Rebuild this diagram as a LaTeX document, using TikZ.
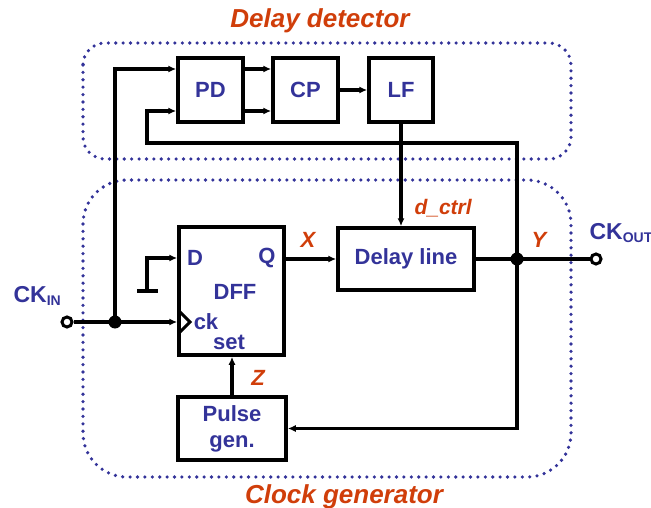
\documentclass[tikz,border=0pt]{standalone}
\usepackage{fontspec}
\setmainfont{Liberation Sans}
\usepackage{tikz}
\usetikzlibrary{arrows.meta,positioning,calc}
\definecolor{txtblue}{RGB}{51,51,153}
\definecolor{lblred}{RGB}{208,62,10}

\begin{document}
\begin{tikzpicture}[x=1pt,y=-1pt,
    font=\fontsize{22}{24}\selectfont\bfseries,
    wire/.style={line width=3.5pt},
    arr/.style={wire,-{Latex[length=8pt,width=7pt]}},
    blk/.style={draw,line width=3.5pt,text=txtblue,align=center,inner sep=0pt},
    dotbox/.style={draw=txtblue,line width=3.6pt,line cap=round,dash pattern=on 0pt off 7.4pt},
    sig/.style={text=lblred,font=\fontsize{22}{24}\selectfont\bfseries\itshape},
    pin/.style={text=txtblue},
    dot/.style={circle,fill=black,inner sep=0pt,minimum size=13pt},
    port/.style={circle,draw,fill=white,line width=3pt,inner sep=0pt,minimum size=10pt}]
    \useasboundingbox (0,0) rectangle (651,508);
    % dotted groups
    \draw[dotbox,rounded corners=22pt] (83,43) rectangle (571,159);
    \draw[dotbox,rounded corners=44pt] (83,180) rectangle (571,477);
    \node[sig,font=\fontsize{26}{28}\selectfont\bfseries\itshape] (ddtitle) at (320,21) {Delay detector};
    \node[sig,font=\fontsize{26}{28}\selectfont\bfseries\itshape] (cgtitle) at (344,497) {Clock generator};
    % blocks
    \node[blk,minimum width=65pt,minimum height=64pt] (pd) at (210.5,90) {PD};
    \node[blk,minimum width=65pt,minimum height=64pt] (cp) at (305.5,90) {CP};
    \node[blk,minimum width=64pt,minimum height=64pt] (lf) at (401,90) {LF};
    \node[blk,minimum width=136pt,minimum height=62pt] (dline) at (406,259) {Delay line};
    \node[blk,minimum width=105pt,minimum height=128pt] (dff) at (231.5,291) {};
    \node[blk,minimum width=108pt,minimum height=63pt,font=\fontsize{22}{26}\selectfont\bfseries] (pulse) at (232,428.5) {Pulse\\gen.};
    % labels inside the flip-flop
    \node[pin] (dpin) at (195,258) {D};
    \node[pin] (qpin) at (267,258) {Q};
    \node[pin] (dffname) at (235,292) {DFF};
    \node[pin] (ckpin) at (206,322) {ck};
    \node[pin] (setpin) at (229,342) {set};
    \draw[line width=3pt] (179,311) -- (190,322) -- (179,333);
    % ports and junctions
    \node[port] (ckin) at (67,322) {};
    \node[port] (ckout) at (596,259) {};
    \node[pin,anchor=west,font=\fontsize{23}{24}\selectfont\bfseries] (ckinlbl) at (10,296) {CK\textsubscript{\fontsize{14}{14}\selectfont IN}};
    \node[pin,anchor=west,font=\fontsize{23}{24}\selectfont\bfseries] (ckoutlbl) at (586,233) {CK\textsubscript{\fontsize{14}{14}\selectfont OUT}};
    \coordinate (ckjoin) at (115,322);
    \coordinate (yjoin) at (517,259);
    \coordinate (fb) at (147,143);
    \coordinate (gnd) at (147,291);
    % wires
    \draw[arr] (ckin) -- (ckjoin) -- ([yshift=-31pt]dff.west);
    \draw[arr] (ckjoin) |- ([yshift=21pt]pd.west);
    \draw[arr] ([yshift=21pt]pd.east) -- ([yshift=21pt]cp.west);
    \draw[arr] ([yshift=-21pt]pd.east) -- ([yshift=-21pt]cp.west);
    \draw[arr] (cp.east) -- (lf.west);
    \draw[arr] (lf.south) -- (lf.south |- dline.north);
    \draw[arr] (dline.west -| dff.east) -- (dline.west);
    \draw[wire] (dline.east) -- (ckout.west);
    \draw[arr] (yjoin) |- (fb) |- ([yshift=-21pt]pd.west);
    \draw[arr] (yjoin) |- (pulse.east);
    \draw[arr] (pulse.north) -- (pulse.north |- dff.south);
    \draw[wire] (137,291) -- (158,291);
    \draw[arr] (gnd) |- ([yshift=33pt]dff.west);
    \node[dot] (ckdot) at (ckjoin) {};
    \node[dot] (ydot) at (yjoin) {};
    % signal names
    \node[sig] (xlbl) at (308,240) {X};
    \node[sig] (ylbl) at (539,240) {Y};
    \node[sig] (zlbl) at (258,378) {Z};
    \node[sig,anchor=west,font=\fontsize{21}{24}\selectfont\bfseries\itshape] (ctrllbl) at (411,208) {d\_ctrl};
\end{tikzpicture}
\end{document}
